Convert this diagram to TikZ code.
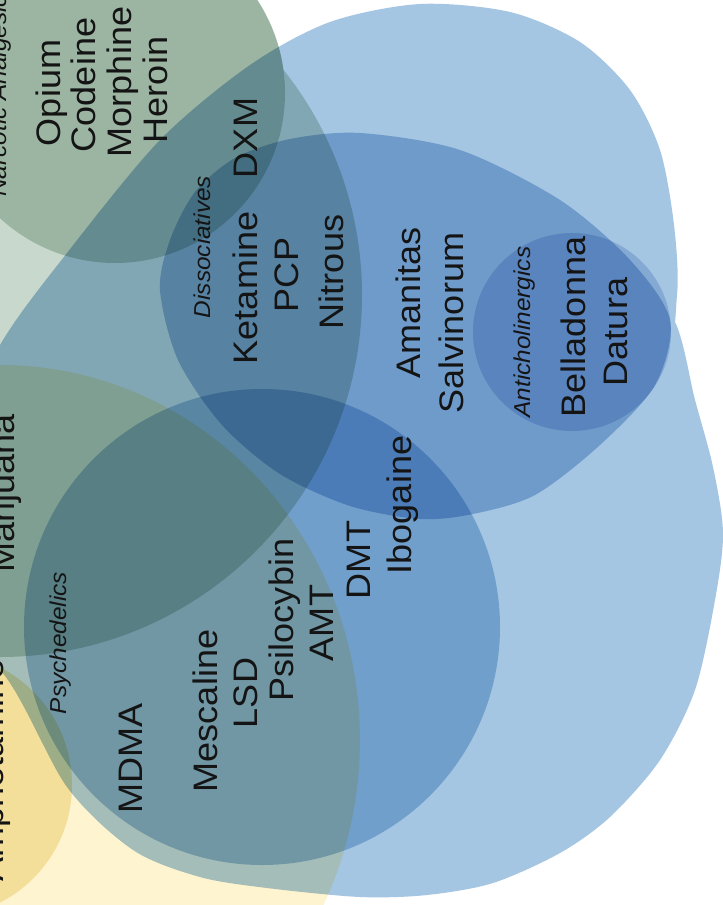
\documentclass[tikz,border=0pt]{standalone}
\usepackage{fontspec}
\setmainfont{Liberation Sans}
\begin{document}
\begin{tikzpicture}[x=0.75pt,y=-0.75pt]
\definecolor{cD}{RGB}{200,216,204}
\definecolor{cS}{RGB}{254,244,208}
\definecolor{cY}{RGB}{245,234,190}
\definecolor{cN}{RGB}{156,181,163}
\definecolor{cL}{RGB}{165,198,226}
\definecolor{cP}{RGB}{176,205,230}
\definecolor{cM}{RGB}{172,200,230}
\definecolor{cA}{RGB}{205,218,238}
\definecolor{ink}{RGB}{20,20,20}
\tikzset{
  big/.style={rotate=90, xscale=1.06, font=\fontsize{25.5}{28}\selectfont, text=ink, inner sep=0pt, anchor=base},
  small/.style={rotate=90, xscale=1.06, font=\fontsize{17.25}{19}\selectfont\itshape, text=ink, inner sep=0pt, anchor=base},
  mult/.style={blend mode=multiply}
}
\useasboundingbox (0,0) rectangle (723,905);
\clip (0,0) rectangle (723,905);
\fill[white] (0,0) rectangle (723,905);
\begin{scope}[mult]
% Depressants
\fill[cD] (0,295) circle [radius=362];
% Stimulants
\fill[cS] (0,740) ellipse [x radius=360, y radius=375];
% small yellow circle
\fill[cY] (-60,785) circle [radius=132];
\end{scope}
% Narcotic analgesics
\fill[cN] (115,93) circle [radius=170];
\begin{scope}[mult]
% Hallucinogens (union of two lobes)
\fill[cL] plot[smooth cycle] coordinates {(-60,470) (0,345) (67,253) (160,140) (250,65) (330,22) (420,4) (510,12) (580,42) (630,90) (660,150) (674,225) (677,295) (660,370) (560,440) (400,480) (200,520) (0,560)}
          plot[smooth cycle] coordinates {(-90,620) (-70,450) (100,330) (300,275) (500,250) (620,275) (673,318) (695,400) (713,467) (723,533) (715,600) (695,690) (660,760) (610,817) (560,853) (493,883) (427,895) (360,897) (267,888) (200,877) (133,850) (67,787) (0,670)};
% Psychedelics
\fill[cP] (262,627) circle [radius=238];
% middle hallucinogen group
\fill[cM] plot[smooth cycle] coordinates {(160,290) (170,240) (195,192) (235,158) (290,139) (360,133) (460,150) (560,200) (630,260) (670,320) (655,385) (600,445) (535,495) (473,514) (420,519) (350,506) (280,474) (222,425) (178,360)};
% Anticholinergics
\fill[cA] (572,332) circle [radius=99];
\end{scope}
% labels
\node[small, anchor=base west] (narc) at (7,197) {Narcotic Analgesics};
\node[big] (opium) at (60,93) {Opium};
\node[big] (codeine) at (95,85) {Codeine};
\node[big] (morphine) at (131,82) {Morphine};
\node[big] (heroin) at (167,90) {Heroin};
\node[big] (dxm) at (257,138) {DXM};
\node[small] (diss) at (210,247) {Dissociatives};
\node[big] (ketamine) at (257,288) {Ketamine};
\node[big] (pcp) at (298,275) {PCP};
\node[big] (nitrous) at (343,272) {Nitrous};
\node[big] (amanitas) at (420,303) {Amanitas};
\node[big] (salvinorum) at (463,323) {Salvinorum};
\node[small] (antichol) at (530,332) {Anticholinergics};
\node[big] (belladonna) at (585,327) {Belladonna};
\node[big] (datura) at (627,332) {Datura};
\node[big] (ibogaine) at (411,505) {Ibogaine};
\node[big] (dmt) at (370,560) {DMT};
\node[big] (psilocybin) at (293,620) {Psilocybin};
\node[big] (amt) at (333,623) {AMT};
\node[big] (lsd) at (257,693) {LSD};
\node[big] (mescaline) at (217,711) {Mescaline};
\node[big] (mdma) at (142,758) {MDMA};
\node[small] (psych) at (66,643) {Psychedelics};
\node[big, anchor=base west] (mari) at (14,573) {Marijuana};
\node[big, anchor=base west] (amph) at (3,882) {Amphetamine};
\end{tikzpicture}
\end{document}
